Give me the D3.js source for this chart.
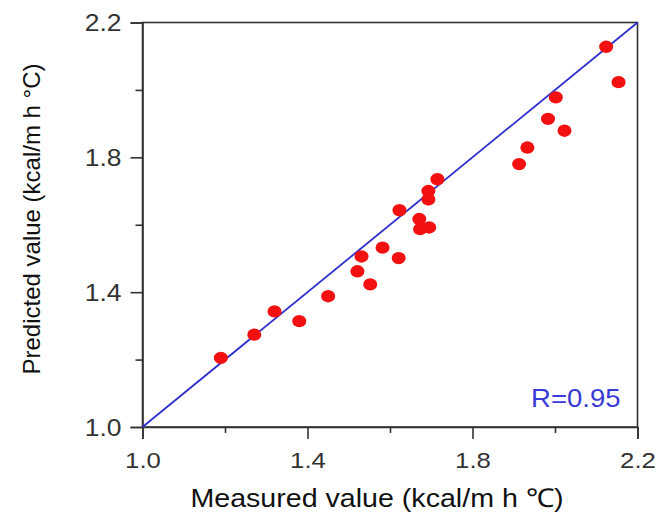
<!DOCTYPE html>
<html>
<head>
<meta charset="utf-8">
<script src="https://cdn.jsdelivr.net/npm/d3@7"></script>
<style>
  html, body { margin: 0; padding: 0; background: #fff; }
  text { font-family: "Liberation Sans", Arial, sans-serif; }
</style>
</head>
<body>
<svg id="chart" width="660" height="516"></svg>
<script>
// Data
const measured = [1.19, 1.271, 1.32, 1.38, 1.45, 1.521, 1.531, 1.552, 1.582, 1.621, 1.623, 1.671, 1.673, 1.695, 1.693, 1.693, 1.715, 1.913, 1.933, 1.983, 2.002, 2.023, 2.124, 2.154];
const predicted = [1.205, 1.274, 1.343, 1.314, 1.388, 1.462, 1.506, 1.423, 1.532, 1.501, 1.643, 1.617, 1.587, 1.592, 1.675, 1.700, 1.735, 1.780, 1.829, 1.914, 1.978, 1.879, 2.128, 2.023];
const majorTicks = [1.0, 1.4, 1.8, 2.2];
const minorTicks = [1.2, 1.6, 2.0];
const domain = [1.0, 2.2];
const rLabel = "R=0.95";
const xTitle = "Measured value (kcal/m h \u2103)";
const yTitle = "Predicted value (kcal/m h \u00B0C)";

const svg = d3.select("#chart");
const mLeft = 142.5, mRight = 637.5, mTop = 22.5, mBottom = 427;
const x = d3.scaleLinear().domain(domain).range([mLeft, mRight]);
const y = d3.scaleLinear().domain(domain).range([mBottom, mTop]);
const axisColor = "#333";

// frame
svg.append("rect").attr("x", mLeft).attr("y", mTop).attr("width", mRight - mLeft).attr("height", mBottom - mTop)
  .attr("fill", "none").attr("stroke", axisColor).attr("stroke-width", 1.6);

// x axis
const xAxis = d3.axisBottom(x).tickValues(majorTicks).tickSize(12).tickFormat(d3.format(".1f"));
const gx = svg.append("g").attr("transform", `translate(0,${mBottom})`).call(xAxis);
gx.select(".domain").attr("stroke", axisColor).attr("stroke-width", 1.6);
gx.selectAll(".tick line").attr("stroke", axisColor).attr("stroke-width", 1.6);
gx.selectAll(".tick text").attr("fill", "#333").attr("font-size", 23).attr("dy", null).attr("y", 0)
  .attr("transform", "translate(0,41) scale(1.12,1)");
const xMinor = d3.axisBottom(x).tickValues(minorTicks).tickSize(6).tickFormat("");
const gxm = svg.append("g").attr("transform", `translate(0,${mBottom})`).call(xMinor);
gxm.select(".domain").remove();
gxm.selectAll(".tick line").attr("stroke", axisColor).attr("stroke-width", 1.6);

// y axis
const yAxis = d3.axisLeft(y).tickValues(majorTicks).tickSize(12).tickFormat(d3.format(".1f"));
const gy = svg.append("g").attr("transform", `translate(${mLeft},0)`).call(yAxis);
gy.select(".domain").attr("stroke", axisColor).attr("stroke-width", 1.6);
gy.selectAll(".tick line").attr("stroke", axisColor).attr("stroke-width", 1.6);
gy.selectAll(".tick text").attr("fill", "#333").attr("font-size", 23).attr("x", 0).attr("dy", "0.35em")
  .attr("transform", "translate(-21,0) scale(1.15,1)");
const yMinor = d3.axisLeft(y).tickValues(minorTicks).tickSize(7).tickFormat("");
const gym = svg.append("g").attr("transform", `translate(${mLeft},0)`).call(yMinor);
gym.select(".domain").remove();
gym.selectAll(".tick line").attr("stroke", axisColor).attr("stroke-width", 1.6);

// 1:1 line
svg.append("line")
  .attr("x1", x(domain[0])).attr("y1", y(domain[0]))
  .attr("x2", x(domain[1])).attr("y2", y(domain[1]))
  .attr("stroke", "#2e2ecc").attr("stroke-width", 1.8);

// points
svg.append("g").selectAll("ellipse").data(measured.map((m, i) => [m, predicted[i]])).join("ellipse")
  .attr("cx", d => x(d[0])).attr("cy", d => y(d[1]))
  .attr("rx", 7).attr("ry", 6.2).attr("fill", "#f21010");

// R label
svg.append("text").attr("x", 0).attr("y", 0)
  .attr("transform", `translate(${x(2.2) - 17},407) scale(1.1,1)`)
  .attr("text-anchor", "end").attr("font-size", 25).attr("fill", "#3a3ad8").text(rLabel);

// axis titles
svg.append("text").attr("transform", `translate(377,507) scale(1.1,1)`)
  .attr("text-anchor", "middle").attr("font-size", 26).attr("fill", "#111").text(xTitle);
svg.append("text").attr("transform", `translate(40,219) rotate(-90)`)
  .attr("text-anchor", "middle").attr("font-size", 24).attr("fill", "#111").text(yTitle);
</script>
</body>
</html>
